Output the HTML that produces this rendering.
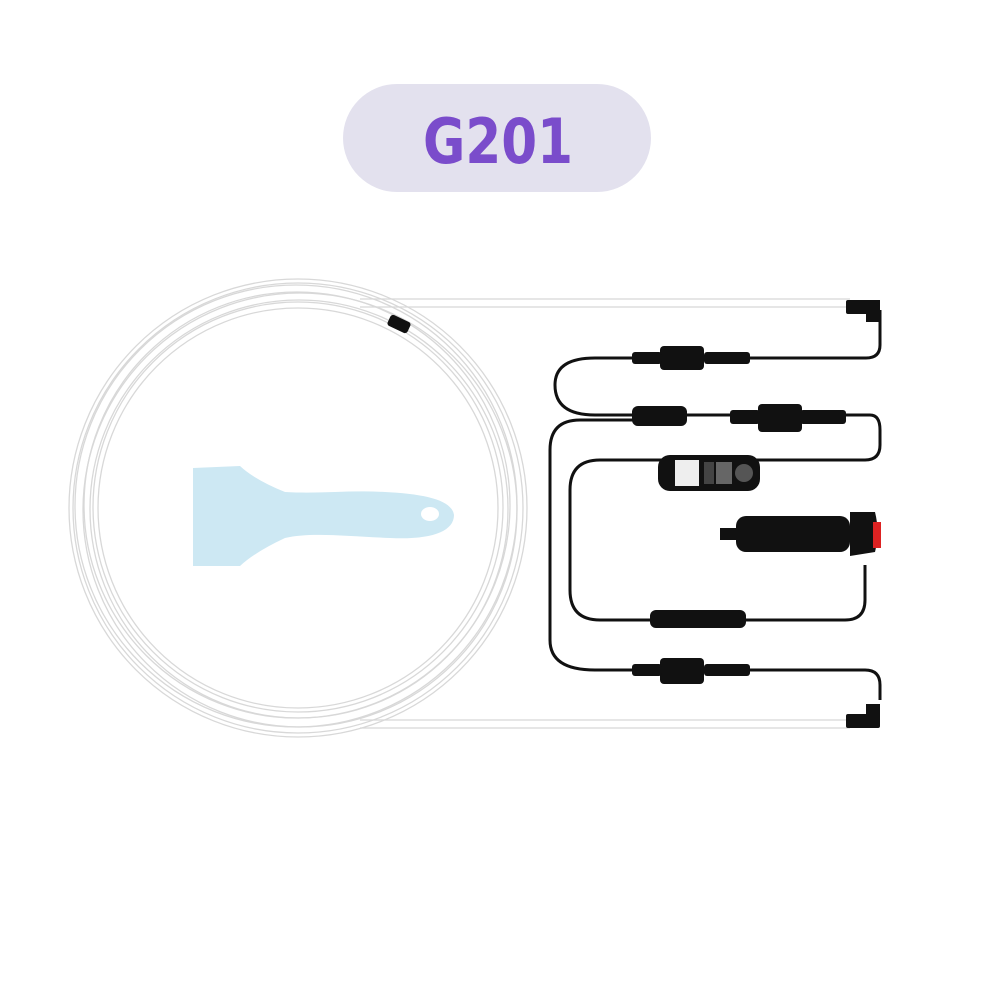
<!DOCTYPE html>
<html><head><style>
html,body{margin:0;padding:0;background:#fff;}
</style></head><body>
<svg width="1000" height="1000" viewBox="0 0 1000 1000" xmlns="http://www.w3.org/2000/svg">
<rect width="1000" height="1000" fill="#fff"/>
<rect x="343" y="84" width="308" height="108" rx="54" fill="#e3e1ee"/>
<text x="498" y="163" text-anchor="middle" font-family="DejaVu Sans, sans-serif" font-weight="bold" font-size="62" fill="#7a4ccb" textLength="150" lengthAdjust="spacingAndGlyphs">G201</text>
<g fill="none" stroke="#d8d8d8" stroke-width="1.3">
<circle cx="298" cy="508" r="229"/>
<circle cx="298" cy="508" r="225"/>
<circle cx="296" cy="506" r="221"/>
<circle cx="300" cy="510" r="217"/>
<circle cx="297" cy="505" r="213"/>
<circle cx="299" cy="509" r="209"/>
<circle cx="298" cy="507" r="205"/>
<circle cx="298" cy="508" r="200"/>
<path d="M360 299 H850 M360 307 H850 M360 720 H850 M360 728 H850"/>
</g>
<rect x="388" y="318" width="22" height="12" rx="3" fill="#111" transform="rotate(25 399 324)"/>
<path d="M193 468 L240 466 Q255 480 285 492 C320 494 350 490 385 492 C425 494 452 500 454 515 C454 532 430 540 390 538 C345 536 310 532 285 538 Q255 552 240 566 L193 566 Z" fill="#cde8f3"/>
<ellipse cx="430" cy="514" rx="9" ry="7" fill="#fff"/>
<g fill="none" stroke="#111" stroke-width="3">
<path d="M880 310 V345 Q880 358 866 358 H595 Q555 358 555 385 Q555 415 595 415 H870 Q880 415 880 430 V445 Q880 460 865 460 H600 Q570 460 570 490 V590 Q570 620 600 620 H845 Q865 620 865 600 V565"/>
<path d="M880 700 V685 Q880 670 865 670 H595 Q550 670 550 640 V450 Q550 420 580 420 H640"/>
</g>
<g fill="#111">
<rect x="846" y="300" width="34" height="14" rx="2"/>
<rect x="866" y="300" width="14" height="22"/>
<rect x="846" y="714" width="34" height="14" rx="2"/>
<rect x="866" y="704" width="14" height="22"/>
<rect x="660" y="346" width="44" height="24" rx="4"/>
<rect x="632" y="352" width="30" height="12" rx="3"/>
<rect x="704" y="352" width="46" height="12" rx="3"/>
<rect x="632" y="406" width="55" height="20" rx="6"/>
<rect x="758" y="404" width="44" height="28" rx="4"/>
<rect x="730" y="410" width="30" height="14" rx="3"/>
<rect x="800" y="410" width="46" height="14" rx="3"/>
<rect x="660" y="658" width="44" height="26" rx="4"/>
<rect x="632" y="664" width="30" height="12" rx="3"/>
<rect x="704" y="664" width="46" height="12" rx="3"/>
<rect x="650" y="610" width="96" height="18" rx="6"/>
<rect x="658" y="455" width="102" height="36" rx="12"/>
<rect x="736" y="516" width="114" height="36" rx="10"/>
<path d="M850 512 L875 512 Q880 532 875 552 L850 556 Z"/>
<rect x="720" y="528" width="18" height="12"/>
</g>
<rect x="675" y="460" width="24" height="26" fill="#eee"/>
<rect x="704" y="462" width="10" height="22" fill="#444"/>
<rect x="716" y="462" width="16" height="22" fill="#666"/>
<circle cx="744" cy="473" r="9" fill="#555"/>
<rect x="873" y="522" width="8" height="26" fill="#d22"/>
</svg>
</body></html>
